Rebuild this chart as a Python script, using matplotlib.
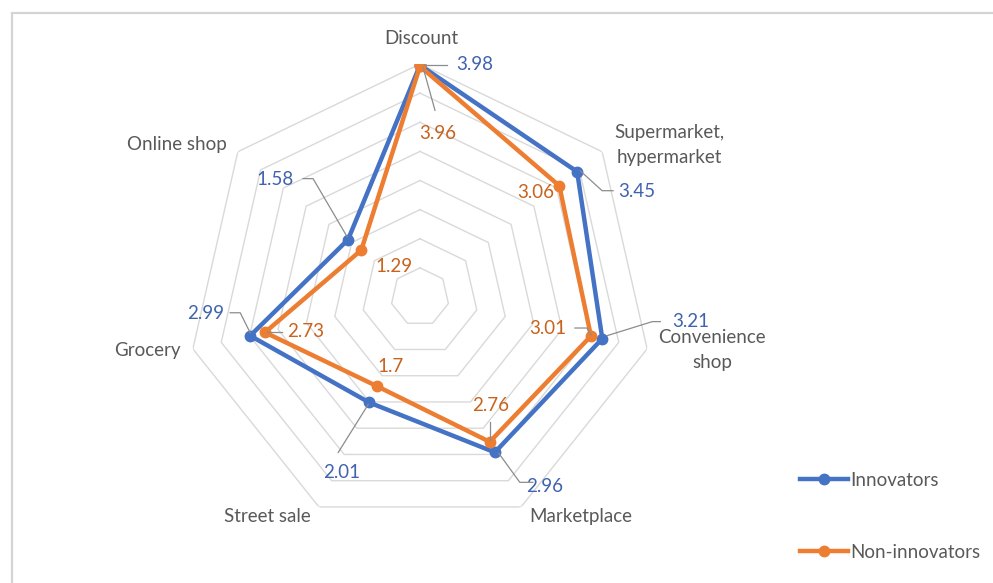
import numpy as np
import matplotlib
matplotlib.use("Agg")
import matplotlib.pyplot as plt
from matplotlib.lines import Line2D
from matplotlib.patches import Rectangle

plt.rcParams['font.family'] = ['Lato', 'DejaVu Sans']

# data
categories = ['Discount', 'Supermarket,\nhypermarket', 'Convenience\nshop',
              'Marketplace', 'Street sale', 'Grocery', 'Online shop']
innovators = [3.98, 3.45, 3.21, 2.96, 2.01, 2.99, 1.58]
non_innovators = [3.96, 3.06, 3.01, 2.76, 1.7, 2.73, 1.29]
rings = [0.5, 1.0, 1.5, 2.0, 2.5, 3.0, 3.5, 4.0]

blue = '#4472C4'
orange = '#ED7D31'
blue_txt = '#4063AE'
orange_txt = '#C8621C'
grey_txt = '#595959'
leader_col = '#8C8C8C'
fs = 13.5

n = len(categories)
theta = np.arange(n) * 2 * np.pi / n
theta_c = np.append(theta, theta[0])

fig = plt.figure(figsize=(9.93, 5.83), dpi=100)
fig.patches.append(Rectangle((12/993, -0.1), 1.2, (583-13)/583 + 0.1,
                             transform=fig.transFigure, fill=False,
                             edgecolor='#D4D4D4', lw=1.6))

ax = fig.add_axes([187/993, 53/583, 466/993, 466/583], projection='polar')
ax.set_theta_zero_location('N')
ax.set_theta_direction(-1)
ax.set_ylim(0, 4)
ax.grid(False)
ax.spines['polar'].set_visible(False)
ax.set_xticks([])
ax.set_yticks([])
ax.patch.set_alpha(0)

# heptagon gridlines
for r in rings:
    ax.plot(theta_c, [r] * (n + 1), color='#D9D9D9', lw=1.0, zorder=1)

ax.plot(theta_c, np.append(innovators, innovators[0]), color=blue, lw=3.2,
        marker='o', ms=7.5, label='Innovators', zorder=3)
ax.plot(theta_c, np.append(non_innovators, non_innovators[0]), color=orange, lw=3.2,
        marker='o', ms=7.5, label='Non-innovators', zorder=4)

# category labels: pixel offsets from the outer ring vertex
cat_off = [(1, -26), (67, -7), (65, 1), (60, 10), (-52, 10), (-45, 2), (-61, -7)]
for t, name, (dx, dy) in zip(theta, categories, cat_off):
    ax.annotate(name, xy=(t, 4.0), xytext=(dx, -dy), textcoords='offset pixels',
                ha='center', va='center', fontsize=fs, color=grey_txt,
                linespacing=1.55, annotation_clip=False)

# data labels: (label offset, leader polyline offsets) in pixels, y down
inno_lab = [
    ((55, -1), [(4, 0), (27, 0)]),
    ((60, 20), [(3, -1), (25, 19), (36, 19)]),
    ((88, -17), [(5, -3), (50, -17), (58, -17)]),
    ((50, 34), [(4, 1), (25, 30), (38, 30)]),
    ((-28, 70), [(-1, 2), (-31, 50)]),
    ((-45, -22), [(0, -3), (-10, -23), (-20, -23)]),
    ((-73, -60), [(-1, -3), (-35, -61), (-45, -61)]),
]
non_lab = [
    ((18, 67), [(3, 1), (15, 44)]),
    ((-24, 7), None),
    ((-43, -8), [(0, -1), (-4, -8), (-16, -8)]),
    ((1, -36), [(0, -2), (0, -20)]),
    ((14, -20), None),
    ((41, -1), [(2, 0), (17, 0)]),
    ((33, 16), None),
]

fig.canvas.draw()
for vals, labs, col in [(innovators, inno_lab, blue_txt),
                        (non_innovators, non_lab, orange_txt)]:
    for t, v, ((dx, dy), lead) in zip(theta, vals, labs):
        ax.annotate(f'{v:g}', xy=(t, v), xytext=(dx, -dy), textcoords='offset pixels',
                    ha='center', va='center', fontsize=fs, color=col,
                    annotation_clip=False, zorder=6)
        if lead:
            px, py = ax.transData.transform((t, v))
            xs = [px + a for a, b in lead]
            ys = [py - b for a, b in lead]
            fig.add_artist(Line2D(xs, ys, transform=None, color=leader_col,
                                  lw=0.9, zorder=2))

fig.legend(loc='upper left', bbox_to_anchor=(792/993, 1 - 464/583),
           frameon=False, fontsize=fs, handlelength=2.6, handletextpad=0.1,
           labelspacing=2.95, labelcolor=grey_txt, borderaxespad=0)

fig.savefig('out.png', dpi=100)
